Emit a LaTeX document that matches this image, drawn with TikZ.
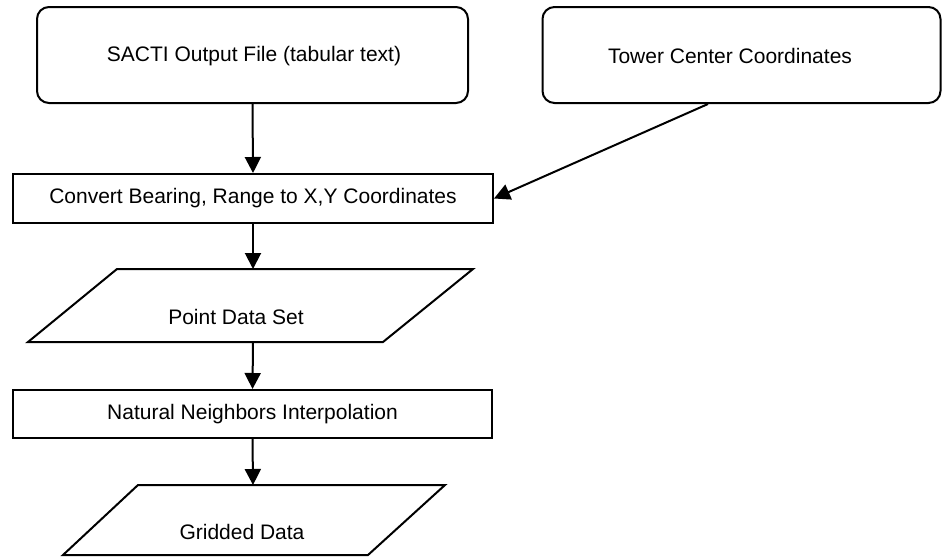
\documentclass[tikz,border=0pt]{standalone}
\usepackage{fontspec}
\setmainfont{Liberation Sans}
\usetikzlibrary{arrows.meta}
\begin{document}
\begin{tikzpicture}[x=1pt,y=-1pt,
  every node/.style={font=\fontsize{21}{25}\selectfont, inner sep=0pt},
  rbox/.style={draw, line width=2pt, rounded corners=12pt},
  sbox/.style={draw, line width=2pt},
  lbl/.style={},
  shapeline/.style={draw, line width=2pt, line join=miter},
  arr/.style={line width=2pt, -{Triangle[length=16pt,width=16pt]}}]
\useasboundingbox[fill=white] (0,0) rectangle (942,557);

% top boxes
\node[rbox, minimum width=431pt, minimum height=96pt] (b1) at (252.5,55) {};
\node[lbl] (t1) at (254,56) {SACTI Output File (tabular text)};
\node[rbox, minimum width=398pt, minimum height=96pt] (b2) at (741.5,55) {};
\node[lbl] (t2) at (730,56) {Tower Center Coordinates};

% convert box
\node[sbox, minimum width=480pt, minimum height=49pt] (r3) at (253,198.5) {Convert Bearing, Range to X,Y Coordinates};

% point data set parallelogram
\coordinate (p1a) at (117,269);
\coordinate (p1b) at (473,269);
\coordinate (p1c) at (383,342);
\coordinate (p1d) at (28,342);
\coordinate (p1t) at (253,269);
\coordinate (p1s) at (253,342);
\draw[shapeline] (p1a) -- (p1b) -- (p1c) -- (p1d) -- cycle;
\node[lbl] (t3) at (236,317) {Point Data Set};

% natural neighbors box
\node[sbox, minimum width=479pt, minimum height=48pt] (r4) at (252.5,414) {Natural Neighbors Interpolation};

% gridded data parallelogram
\coordinate (p2a) at (138,485);
\coordinate (p2b) at (445,485);
\coordinate (p2c) at (368,555);
\coordinate (p2d) at (63,555);
\coordinate (p2t) at (253,485);
\draw[shapeline] (p2a) -- (p2b) -- (p2c) -- (p2d) -- cycle;
\node[lbl] (t4) at (242,532) {Gridded Data};

% connectors
\draw[arr] (b1.south) -- (r3.north);
\draw[arr] ([xshift=-33.5pt]b2.south) -- (r3.east);
\draw[arr] (r3.south) -- (p1t);
\draw[arr] (p1s) -- (r4.north);
\draw[arr] (r4.south) -- (p2t);
\end{tikzpicture}
\end{document}
